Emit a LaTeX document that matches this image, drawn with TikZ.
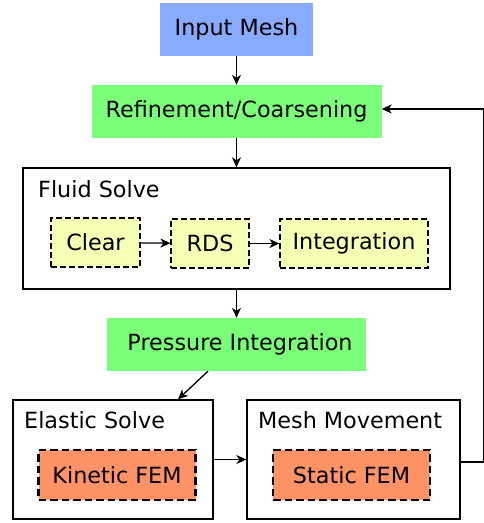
\documentclass[tikz,border=0pt]{standalone}
\usepackage{fontspec}
\setmainfont{DejaVu Sans}
\usetikzlibrary{arrows.meta}
\definecolor{inblue}{RGB}{136,170,255}
\definecolor{stepgreen}{RGB}{124,255,120}
\definecolor{subyellow}{RGB}{246,255,180}
\definecolor{femsalmon}{RGB}{255,146,102}
\tikzset{
  every node/.style={font=\fontsize{22.3}{26}\selectfont, inner sep=0pt},
  flat/.style={rectangle, minimum width=#1, minimum height=53pt},
  group/.style={rectangle, draw, line width=1.3pt},
  substep/.style={rectangle, draw, line width=1.2pt, dash pattern=on 6pt off 3pt,
                  fill=subyellow, minimum height=49pt},
  fem/.style={rectangle, draw, line width=2.4pt, dash pattern=on 7.5pt off 4pt,
              fill=femsalmon, minimum width=157pt, minimum height=50pt},
  arr/.style={line width=1.3pt, -{Stealth[length=10pt,width=9pt,inset=3pt]}},
  glabel/.style={anchor=base west},
}
\begin{document}
\begin{tikzpicture}[x=1pt,y=-1pt]
\useasboundingbox (0,0) rectangle (484,523);

% main flow
\node[flat=153pt, fill=inblue] (im) at (236.5,29.5) {Input Mesh};
\node[flat=290pt, fill=stepgreen] (rc) at (236.5,111.5) {Refinement/Coarsening};

% fluid solve group with its three steps
\node[group, minimum width=427pt, minimum height=121pt] (fs) at (236.5,228.5) {};
\node[glabel] at (38,197) {Fluid Solve};
\node[substep, minimum width=89pt] (cl) at (95.5,242.5) {Clear};
\node[substep, minimum width=78pt] (rds) at (210,243.5) {RDS};
\node[substep, minimum width=148pt] (ig) at (354,243.5) {Integration};

\node[flat=259pt, fill=stepgreen] (pi) at (236.5,344.5) {~Pressure Integration};

% solid side
\node[group, minimum width=200pt, minimum height=119pt] (es) at (113,459.5) {};
\node[glabel] at (24,428) {Elastic Solve};
\node[fem] (kf) at (117,475) {Kinetic FEM};

\node[group, minimum width=213pt, minimum height=119pt] (mm) at (353.5,459.5) {};
\node[glabel] at (258,428) {Mesh Movement};
\node[fem] (sf) at (351.5,475) {Static FEM};

% connectors
\draw[arr] (im) -- (rc);
\draw[arr] (rc) -- (fs);
\draw[arr] (cl) -- (rds);
\draw[arr] (rds) -- (ig);
\draw[arr] (fs) -- (pi);
\draw[arr] ([xshift=-28.5pt]pi.south) -- ([xshift=65pt]es.north);
\draw[arr] (es.east) -- (mm.west);
\coordinate (loopc) at (483.5,0);
\draw[arr] ([yshift=-2.5pt]mm.east) -| ([yshift=2.5pt]loopc |- rc.east) -- ([yshift=2.5pt]rc.east);
\end{tikzpicture}
\end{document}
